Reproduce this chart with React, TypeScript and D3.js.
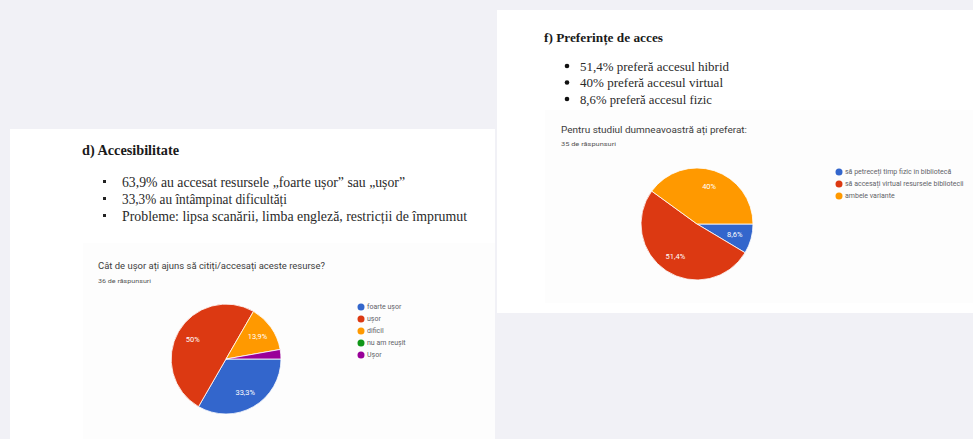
import React from "react";
import * as d3 from "d3";

// ---- Data ----
const leftTitle = "d) Accesibilitate";
const leftBullets = [
  "63,9% au accesat resursele „foarte ușor” sau „ușor”",
  "33,3% au întâmpinat dificultăți",
  "Probleme: lipsa scanării, limba engleză, restricții de împrumut",
];
const leftQuestion = "Cât de ușor ați ajuns să citiți/accesați aceste resurse?";
const leftResponses = "36 de răspunsuri";
const accessCategories = ["foarte ușor", "ușor", "dificil", "nu am reușit", "Ușor"];
const accessCounts = [12, 18, 5, 0, 1];

const rightTitle = "f) Preferințe de acces";
const rightBullets = [
  "51,4% preferă accesul hibrid",
  "40% preferă accesul virtual",
  "8,6% preferă accesul fizic",
];
const rightQuestion = "Pentru studiul dumneavoastră ați preferat:";
const rightResponses = "35 de răspunsuri";
const prefCategories = [
  "să petreceți timp fizic în bibliotecă",
  "să accesați virtual resursele bibliotecii",
  "ambele variante",
];
const prefCounts = [3, 18, 14];

const googleColors = ["#3366cc", "#dc3912", "#ff9900", "#109618", "#990099"];

const fmtPct = (v: number) => {
  const p = Math.round(v * 1000) / 10;
  return String(p).replace(".", ",") + "%";
};

type PieProps = {
  cx: number;
  cy: number;
  r: number;
  cats: string[];
  counts: number[];
  legendX: number;
  legendY: number;
  legendFont: number;
};

function GPie({ cx, cy, r, cats, counts, legendX, legendY, legendFont }: PieProps) {
  const total = d3.sum(counts);
  const data = cats.map((c, i) => ({ c, v: counts[i], i }));
  const pie = d3
    .pie<{ c: string; v: number; i: number }>()
    .value((d) => d.v)
    .sort(null)
    .startAngle(Math.PI / 2)
    .endAngle(Math.PI / 2 + 2 * Math.PI);
  const arcs = pie(data);
  const arc = d3.arc<d3.PieArcDatum<{ c: string; v: number; i: number }>>().innerRadius(0).outerRadius(r);
  const labelArc = d3
    .arc<d3.PieArcDatum<{ c: string; v: number; i: number }>>()
    .innerRadius(r * 0.7)
    .outerRadius(r * 0.7);
  const color = d3.scaleOrdinal<number, string>().domain(d3.range(5)).range(googleColors);
  return (
    <g>
      <g transform={`translate(${cx},${cy})`}>
        {arcs.map((a) =>
          a.data.v > 0 ? (
            <path key={a.data.c} d={arc(a) || ""} fill={color(a.data.i)} stroke="#ffffff" strokeWidth={0.8} />
          ) : null
        )}
        {arcs.map((a) => {
          const frac = a.data.v / total;
          if (frac < 0.05) return null;
          const [lx, ly] = labelArc.centroid(a);
          return (
            <text
              key={"l" + a.data.c}
              x={lx}
              y={ly}
              textAnchor="middle"
              dominantBaseline="central"
              fontFamily="Roboto, Arial, sans-serif"
              fontSize={7.5}
              fill="#ffffff"
            >
              {fmtPct(frac)}
            </text>
          );
        })}
      </g>
      {cats.map((c, i) => (
        <g key={"lg" + c} transform={`translate(${legendX},${legendY + i * 12})`}>
          <circle cx={0} cy={0} r={3.5} fill={color(i)} />
          <text
            x={6}
            y={0}
            dominantBaseline="central"
            fontFamily="Roboto, Arial, sans-serif"
            fontSize={legendFont}
            fill="#5f6368"
          >
            {c}
          </text>
        </g>
      ))}
    </g>
  );
}

export default function App() {
  const serif = "'Liberation Serif', 'DejaVu Serif', serif";
  const sans = "Roboto, Arial, sans-serif";
  return (
    <div style={{ position: "fixed", left: 0, top: 0, width: 973, height: 439 }}>
      <svg width={973} height={439} viewBox="0 0 973 439" style={{ display: "block" }}>
        <rect x={0} y={0} width={973} height={439} fill="#f1f1f6" />

        {/* Right card */}
        <rect x={497} y={10} width={476} height={303} fill="#ffffff" />
        <rect x={545} y={110} width={428} height={193} fill="#fdfdfd" />
        <text x={544} y={42} fontFamily={serif} fontWeight="bold" fontSize={13.5} fill="#1a1a1a" textLength={119} lengthAdjust="spacingAndGlyphs">
          {rightTitle}
        </text>
        {rightBullets.map((b, i) => (
          <g key={"rb" + i}>
            <circle cx={567} cy={66 + i * 16.5} r={2.3} fill="#111" />
            <text
              x={580}
              y={70.5 + i * 16.5}
              fontFamily={serif}
              fontSize={13.5}
              fill="#2a2a2a"
              textLength={[149, 143, 132][i]}
              lengthAdjust="spacingAndGlyphs"
            >
              {b}
            </text>
          </g>
        ))}
        <text x={561} y={133} fontFamily={sans} fontSize={8.5} fill="#3c3c3c" textLength={186} lengthAdjust="spacingAndGlyphs">
          {rightQuestion}
        </text>
        <text x={561} y={146} fontFamily={sans} fontSize={6} fill="#555" textLength={55} lengthAdjust="spacingAndGlyphs">
          {rightResponses}
        </text>
        <GPie cx={697} cy={224} r={56} cats={prefCategories} counts={prefCounts} legendX={839} legendY={172} legendFont={7} />

        {/* Left card */}
        <rect x={10} y={129} width={485} height={310} fill="#ffffff" />
        <rect x={83} y={243} width={412} height={196} fill="#fdfdfd" />
        <text x={82} y={155} fontFamily={serif} fontWeight="bold" fontSize={14} fill="#1a1a1a" textLength={97} lengthAdjust="spacingAndGlyphs">
          {leftTitle}
        </text>
        {leftBullets.map((b, i) => (
          <g key={"lb" + i}>
            <rect x={103} y={180 + i * 17} width={3} height={3} fill="#222" />
            <text
              x={122}
              y={186.5 + i * 17}
              fontFamily={serif}
              fontSize={14}
              fill="#2a2a2a"
              textLength={[283, 165, 345][i]}
              lengthAdjust="spacingAndGlyphs"
            >
              {b}
            </text>
          </g>
        ))}
        <text x={98} y={269} fontFamily={sans} fontSize={9} fill="#3c3c3c" textLength={227} lengthAdjust="spacingAndGlyphs">
          {leftQuestion}
        </text>
        <text x={98} y={283} fontFamily={sans} fontSize={6} fill="#555" textLength={53} lengthAdjust="spacingAndGlyphs">
          {leftResponses}
        </text>
        <GPie cx={226} cy={359} r={55} cats={accessCategories} counts={accessCounts} legendX={361} legendY={307} legendFont={7} />
      </svg>
    </div>
  );
}
